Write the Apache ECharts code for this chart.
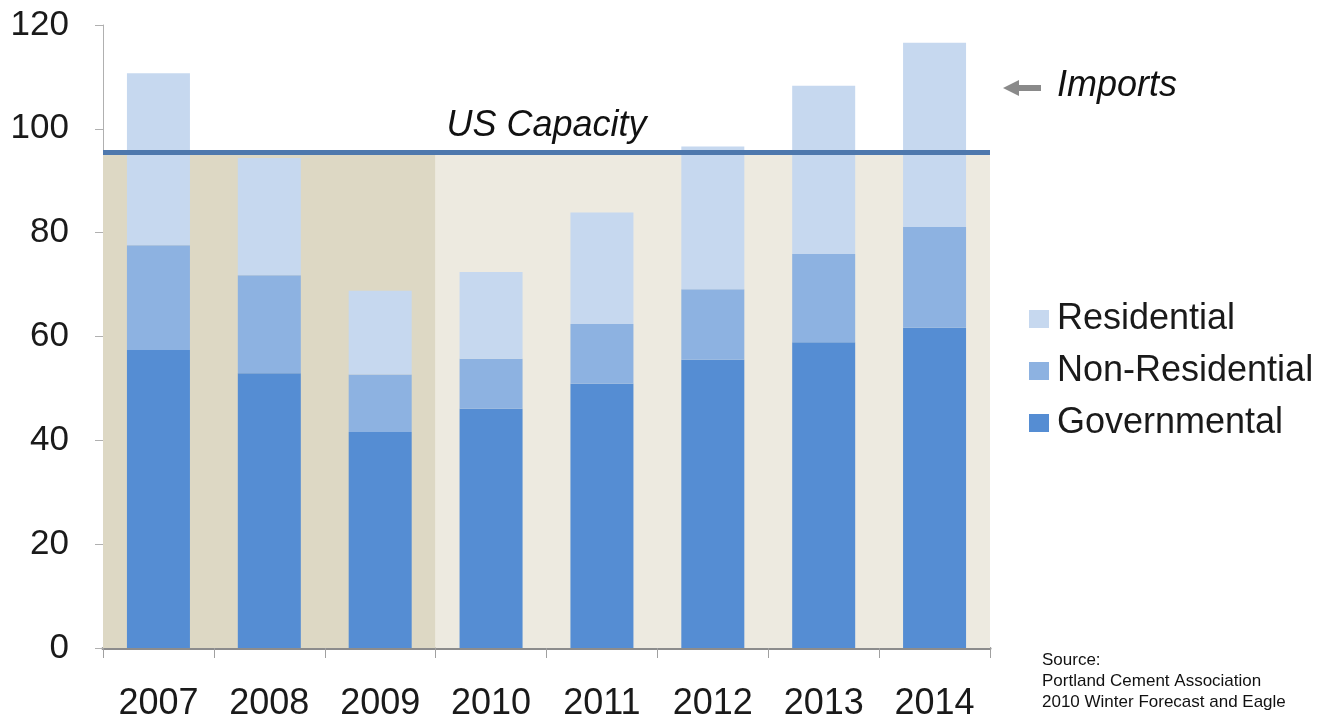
<!DOCTYPE html>
<html>
<head>
<meta charset="utf-8">
<script src="https://cdn.jsdelivr.net/npm/echarts@6/dist/echarts.min.js"></script>
<style>
  html, body { margin: 0; padding: 0; background: #fff; }
  #chart { width: 1333px; height: 725px; }
</style>
</head>
<body>
<div id="chart"></div>
<script>
// 年份
var years = ['2007', '2008', '2009', '2010', '2011', '2012', '2013', '2014']
// 各类需求 (堆叠)
var governmental = [57.4, 52.9, 41.6, 46.1, 50.9, 55.5, 58.9, 61.7]
var nonResidential = [20.2, 18.9, 11.1, 9.6, 11.5, 13.6, 17.0, 19.4]
var residential = [33.1, 22.6, 16.1, 16.7, 21.5, 27.5, 32.4, 35.5]
// 美国产能
var usCapacity = 95.5
// 背景分段 (类目下标)
var shadeBreaks = [0, 3, 8]
var yTicks = [0, 120, 20]

var myChart = echarts.init(document.getElementById('chart'))
var font = 'Liberation Sans, Arial, sans-serif'

var option = {
    animation: false,
    grid: {
        left: 103,
        right: 343,
        top: 25,
        bottom: 77
    },
    legend: {
        orient: 'vertical',
        left: 1029,
        top: 301,
        padding: 0,
        itemWidth: 20,
        itemHeight: 18,
        itemGap: 16,
        icon: 'rect',
        data: ['Residential', 'Non-Residential', 'Governmental'],
        textStyle: { fontFamily: font, fontSize: 36, color: '#1a1a1a', padding: [0, 0, 0, 3] }
    },
    xAxis: [
        {
            type: 'category',
            data: years,
            axisLine: { lineStyle: { color: '#8c8c8c', width: 3 } },
            axisTick: { show: true, length: 10, lineStyle: { color: '#a0a0a0', width: 1 } },
            axisLabel: {
                margin: 38,
                fontFamily: font,
                fontSize: 36,
                color: '#1a1a1a'
            }
        },
        {
            // 辅助轴，用于背景和产能线
            type: 'value',
            min: shadeBreaks[0],
            max: shadeBreaks[shadeBreaks.length - 1],
            show: false
        }
    ],
    yAxis: {
        type: 'value',
        min: yTicks[0],
        max: yTicks[1],
        interval: yTicks[2],
        splitLine: { show: false },
        axisLine: { show: true, lineStyle: { color: '#b0b0b0', width: 1 } },
        axisTick: { show: true, length: 8, lineStyle: { color: '#b0b0b0' } },
        axisLabel: { margin: 34, fontFamily: font, fontSize: 35, color: '#1a1a1a' }
    },
    series: [
        {
            // 背景
            name: 'bg',
            type: 'line',
            xAxisIndex: 1,
            data: [],
            z: 0,
            silent: true,
            markArea: {
                silent: true,
                data: [
                    [{ xAxis: shadeBreaks[0], yAxis: 0, itemStyle: { color: '#ddd8c4' } }, { xAxis: shadeBreaks[1], yAxis: usCapacity }],
                    [{ xAxis: shadeBreaks[1], yAxis: 0, itemStyle: { color: '#edeae0' } }, { xAxis: shadeBreaks[2], yAxis: usCapacity }]
                ]
            }
        },
        {
            name: 'Governmental',
            type: 'bar',
            stack: 'total',
            barWidth: 63,
            data: governmental,
            itemStyle: { color: '#558dd3' },
            z: 2
        },
        {
            name: 'Non-Residential',
            type: 'bar',
            stack: 'total',
            data: nonResidential,
            itemStyle: { color: '#8db2e1' },
            z: 2
        },
        {
            name: 'Residential',
            type: 'bar',
            stack: 'total',
            data: residential,
            itemStyle: { color: '#c6d8ef' },
            z: 2
        },
        {
            // 产能线
            name: 'cap',
            type: 'line',
            xAxisIndex: 1,
            data: [],
            z: 5,
            silent: true,
            markLine: {
                silent: true,
                symbol: 'none',
                lineStyle: { color: '#4e78ad', width: 5, type: 'solid' },
                label: {
                    show: true,
                    position: 'middle',
                    formatter: 'US Capacity',
                    fontFamily: font,
                    fontStyle: 'italic',
                    fontSize: 36,
                    color: '#111',
                    distance: 8
                },
                data: [
                    [{ xAxis: shadeBreaks[0], yAxis: usCapacity }, { xAxis: shadeBreaks[2], yAxis: usCapacity }]
                ]
            }
        }
    ],
    graphic: [
        {
            type: 'group',
            left: 1003,
            top: 80,
            children: [
                { type: 'rect', shape: { x: 14, y: 5, width: 24, height: 6 }, style: { fill: '#8a8a8a' } },
                { type: 'polygon', shape: { points: [[0, 8], [16, 0], [16, 16]] }, style: { fill: '#8a8a8a' } }
            ]
        },
        {
            type: 'text',
            left: 1057,
            top: 68,
            style: { text: 'Imports', fontFamily: font, fontStyle: 'italic', fontSize: 36, fill: '#111' }
        },
        {
            type: 'text',
            left: 1042,
            top: 650,
            style: {
                text: 'Source:\nPortland Cement Association\n2010 Winter Forecast and Eagle',
                fontFamily: font,
                fontSize: 17,
                lineHeight: 21,
                fill: '#111'
            }
        }
    ]
}

option && myChart.setOption(option)
window.addEventListener('resize', () => {
    myChart.resize()
})
</script>
</body>
</html>
